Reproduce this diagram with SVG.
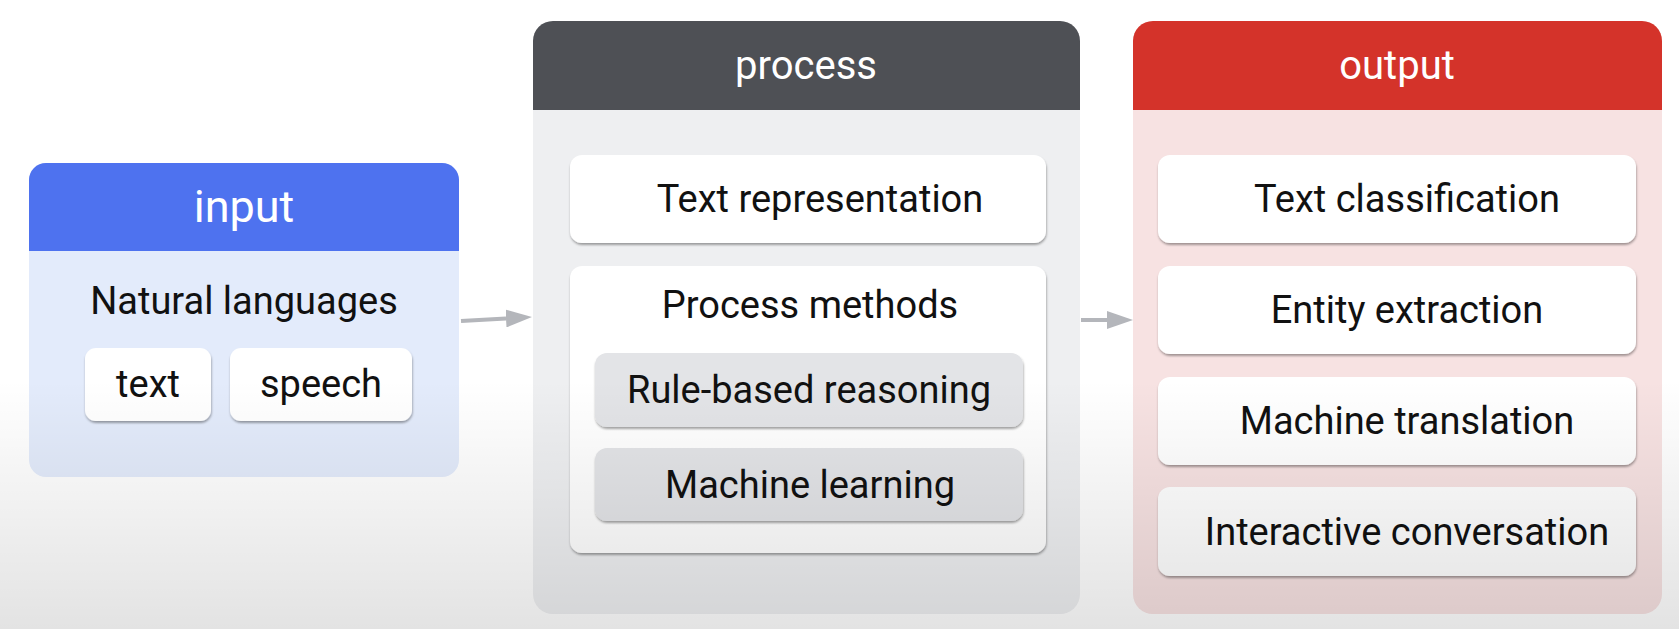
<svg xmlns="http://www.w3.org/2000/svg" width="1679" height="629" viewBox="0 0 1679 629">
  <defs>
    <style>
      .hdr { font-family: Roboto, "Liberation Sans", sans-serif; font-size: 40px; fill: #ffffff; text-anchor: middle; }
      .lbl { font-family: Roboto, "Liberation Sans", sans-serif; font-size: 38px; fill: #111111; text-anchor: middle; }
      .card { fill: #ffffff; filter: url(#shadow); }
      .gcard { fill: #e3e4e7; filter: url(#shadow); }
      .conn { stroke: #b4b6bb; stroke-width: 4; fill: none; marker-end: url(#head); }
    </style>
    <filter id="shadow" x="-10%" y="-20%" width="120%" height="150%">
      <feDropShadow dx="0.5" dy="2" stdDeviation="1.2" flood-color="#000000" flood-opacity="0.35"/>
    </filter>
    <marker id="head" markerUnits="userSpaceOnUse" markerWidth="26" markerHeight="18" refX="0" refY="9" orient="auto">
      <path d="M0,0 L26,9 L0,18 Z" fill="#b4b6bb"/>
    </marker>
    <linearGradient id="fade" gradientUnits="userSpaceOnUse" x1="0" y1="380" x2="0" y2="629">
      <stop offset="0" stop-color="#000000" stop-opacity="0"/>
      <stop offset="1" stop-color="#000000" stop-opacity="0.11"/>
    </linearGradient>
  </defs>

  <rect x="0" y="0" width="1679" height="629" fill="#ffffff"/>

  <g id="input">
    <rect x="29" y="163" width="430" height="314" rx="17" fill="#e3ebfb"/>
    <path d="M29,251 V180 A17,17 0 0 1 46,163 H442 A17,17 0 0 1 459,180 V251 Z" fill="#4e72ef"/>
    <text class="hdr" x="244" y="222" style="font-size:45px">input</text>
    <text class="lbl" x="244" y="314">Natural languages</text>
    <g id="input-text">
      <rect class="card" x="85" y="348" width="126" height="73" rx="11"/>
      <text class="lbl" x="148" y="397">text</text>
    </g>
    <g id="input-speech">
      <rect class="card" x="230" y="348" width="182" height="73" rx="11"/>
      <text class="lbl" x="321" y="397">speech</text>
    </g>
  </g>

  <g id="process">
    <rect x="533" y="21" width="547" height="593" rx="20" fill="#eeeff1"/>
    <path d="M533,110 V41 A20,20 0 0 1 553,21 H1060 A20,20 0 0 1 1080,41 V110 Z" fill="#4e5055"/>
    <text class="hdr" x="806" y="79">process</text>
    <g id="text-representation">
      <rect class="card" x="570" y="155" width="476" height="88" rx="12"/>
      <text class="lbl" x="820" y="212">Text representation</text>
    </g>
    <g id="process-methods">
      <rect class="card" x="570" y="266" width="476" height="287" rx="12"/>
      <text class="lbl" x="810" y="318">Process methods</text>
      <g id="rule-based-reasoning">
        <rect class="gcard" x="595" y="353" width="428" height="74" rx="12"/>
        <text class="lbl" x="809" y="403">Rule-based reasoning</text>
      </g>
      <g id="machine-learning">
        <rect class="gcard" x="595" y="448" width="428" height="73" rx="12"/>
        <text class="lbl" x="810" y="498">Machine learning</text>
      </g>
    </g>
  </g>

  <g id="output">
    <rect x="1133" y="21" width="529" height="593" rx="20" fill="#f7e2e2"/>
    <path d="M1133,110 V41 A20,20 0 0 1 1153,21 H1642 A20,20 0 0 1 1662,41 V110 Z" fill="#d4332a"/>
    <text class="hdr" x="1397" y="79">output</text>
    <g id="text-classification">
      <rect class="card" x="1158" y="155" width="478" height="88" rx="12"/>
      <text class="lbl" x="1407" y="212">Text classification</text>
    </g>
    <g id="entity-extraction">
      <rect class="card" x="1158" y="266" width="478" height="88" rx="12"/>
      <text class="lbl" x="1407" y="323">Entity extraction</text>
    </g>
    <g id="machine-translation">
      <rect class="card" x="1158" y="377" width="478" height="88" rx="12"/>
      <text class="lbl" x="1407" y="434">Machine translation</text>
    </g>
    <g id="interactive-conversation">
      <rect class="card" x="1158" y="487" width="478" height="89" rx="12"/>
      <text class="lbl" x="1407" y="545">Interactive conversation</text>
    </g>
  </g>

  <g id="connectors">
    <line class="conn" x1="461" y1="321" x2="506" y2="318.5"/>
    <line class="conn" x1="1081" y1="320" x2="1107" y2="320"/>
  </g>

  <rect x="0" y="380" width="1679" height="249" fill="url(#fade)" pointer-events="none"/>
</svg>
